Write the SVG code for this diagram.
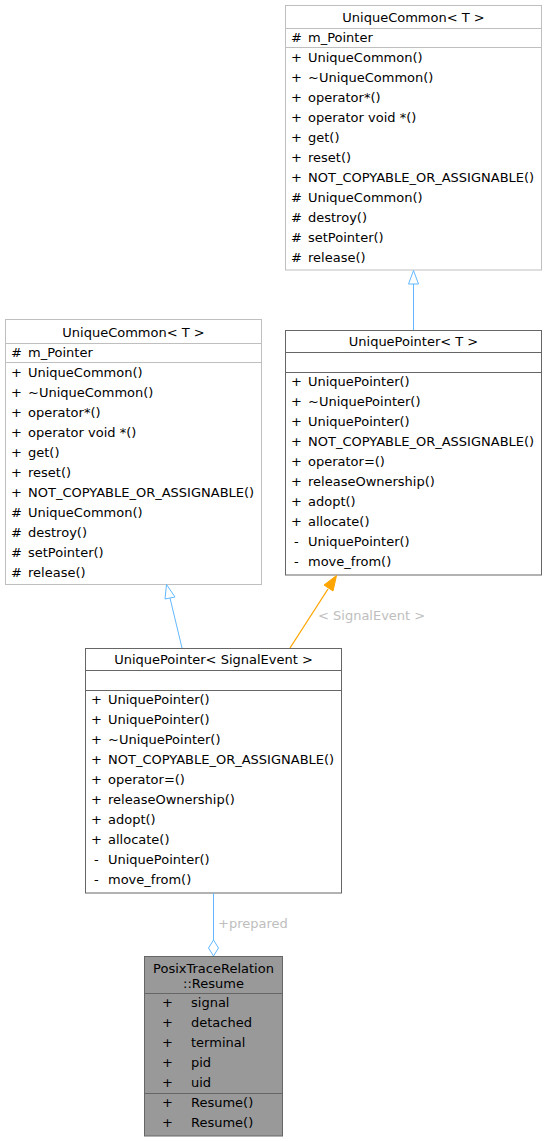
<svg xmlns="http://www.w3.org/2000/svg" width="547" height="1141" viewBox="0 0 547 1141">
<style>
text{font-family:"DejaVu Sans",sans-serif;font-size:13px;fill:#000}
.t{text-anchor:middle}
.lbl{fill:#bebebe}
.lt{fill:#fff;stroke:#bfbfbf;stroke-width:1}
.dk{fill:#fff;stroke:#666;stroke-width:1}
.gr{fill:#999;stroke:#666;stroke-width:1}
.sl{stroke:#bfbfbf;stroke-width:1}
.sd{stroke:#666;stroke-width:1}
.blue{fill:none;stroke:#63b8ff;stroke-width:1}
</style>
<g id="uc_top">
<rect class="lt" x="285.5" y="5.5" width="256" height="264.5"/>
<line class="sl" x1="285.5" y1="28.5" x2="541.5" y2="28.5"/>
<line class="sl" x1="285.5" y1="47.5" x2="541.5" y2="47.5"/>
<text class="t" x="413.5" y="22">UniqueCommon&lt; T &gt;</text>
<text x="291" y="42">#</text><text x="308" y="42">m_Pointer</text>
<text x="291" y="62">+</text><text x="308" y="62">UniqueCommon()</text>
<text x="291" y="82">+</text><text x="308" y="82">~UniqueCommon()</text>
<text x="291" y="102">+</text><text x="308" y="102">operator*()</text>
<text x="291" y="122">+</text><text x="308" y="122">operator void *()</text>
<text x="291" y="142">+</text><text x="308" y="142">get()</text>
<text x="291" y="162">+</text><text x="308" y="162">reset()</text>
<text x="291" y="182">+</text><text x="308" y="182">NOT_COPYABLE_OR_ASSIGNABLE()</text>
<text x="291" y="202">#</text><text x="308" y="202">UniqueCommon()</text>
<text x="291" y="222">#</text><text x="308" y="222">destroy()</text>
<text x="291" y="242">#</text><text x="308" y="242">setPointer()</text>
<text x="291" y="262">#</text><text x="308" y="262">release()</text>
</g>
<g id="uc_left">
<rect class="lt" x="5.5" y="319.5" width="256" height="265"/>
<line class="sl" x1="5.5" y1="343.5" x2="261.5" y2="343.5"/>
<line class="sl" x1="5.5" y1="362.5" x2="261.5" y2="362.5"/>
<text class="t" x="133.5" y="337">UniqueCommon&lt; T &gt;</text>
<text x="11" y="357">#</text><text x="28" y="357">m_Pointer</text>
<text x="11" y="377">+</text><text x="28" y="377">UniqueCommon()</text>
<text x="11" y="397">+</text><text x="28" y="397">~UniqueCommon()</text>
<text x="11" y="417">+</text><text x="28" y="417">operator*()</text>
<text x="11" y="437">+</text><text x="28" y="437">operator void *()</text>
<text x="11" y="457">+</text><text x="28" y="457">get()</text>
<text x="11" y="477">+</text><text x="28" y="477">reset()</text>
<text x="11" y="497">+</text><text x="28" y="497">NOT_COPYABLE_OR_ASSIGNABLE()</text>
<text x="11" y="517">#</text><text x="28" y="517">UniqueCommon()</text>
<text x="11" y="537">#</text><text x="28" y="537">destroy()</text>
<text x="11" y="557">#</text><text x="28" y="557">setPointer()</text>
<text x="11" y="577">#</text><text x="28" y="577">release()</text>
</g>
<g id="up_t">
<rect class="dk" x="285.5" y="330.5" width="256" height="244.5"/>
<line class="sd" x1="285.5" y1="352.5" x2="541.5" y2="352.5"/>
<line class="sd" x1="285.5" y1="372.5" x2="541.5" y2="372.5"/>
<text class="t" x="413.5" y="346">UniquePointer&lt; T &gt;</text>
<text x="291" y="386">+</text><text x="308" y="386">UniquePointer()</text>
<text x="291" y="406">+</text><text x="308" y="406">~UniquePointer()</text>
<text x="291" y="426">+</text><text x="308" y="426">UniquePointer()</text>
<text x="291" y="446">+</text><text x="308" y="446">NOT_COPYABLE_OR_ASSIGNABLE()</text>
<text x="291" y="466">+</text><text x="308" y="466">operator=()</text>
<text x="291" y="486">+</text><text x="308" y="486">releaseOwnership()</text>
<text x="291" y="506">+</text><text x="308" y="506">adopt()</text>
<text x="291" y="526">+</text><text x="308" y="526">allocate()</text>
<text x="294" y="546">-</text><text x="308" y="546">UniquePointer()</text>
<text x="294" y="566">-</text><text x="308" y="566">move_from()</text>
</g>
<g id="up_se">
<rect class="dk" x="85.5" y="648.5" width="256" height="244.5"/>
<line class="sd" x1="85.5" y1="670.5" x2="341.5" y2="670.5"/>
<line class="sd" x1="85.5" y1="690.5" x2="341.5" y2="690.5"/>
<text class="t" x="213.5" y="664">UniquePointer&lt; SignalEvent &gt;</text>
<text x="91" y="704">+</text><text x="108" y="704">UniquePointer()</text>
<text x="91" y="724">+</text><text x="108" y="724">UniquePointer()</text>
<text x="91" y="744">+</text><text x="108" y="744">~UniquePointer()</text>
<text x="91" y="764">+</text><text x="108" y="764">NOT_COPYABLE_OR_ASSIGNABLE()</text>
<text x="91" y="784">+</text><text x="108" y="784">operator=()</text>
<text x="91" y="804">+</text><text x="108" y="804">releaseOwnership()</text>
<text x="91" y="824">+</text><text x="108" y="824">adopt()</text>
<text x="91" y="844">+</text><text x="108" y="844">allocate()</text>
<text x="94" y="864">-</text><text x="108" y="864">UniquePointer()</text>
<text x="94" y="884">-</text><text x="108" y="884">move_from()</text>
</g>
<g id="resume">
<rect class="gr" x="144.5" y="956.5" width="138" height="179.5"/>
<line class="sd" x1="144.5" y1="993.5" x2="282.5" y2="993.5"/>
<line class="sd" x1="144.5" y1="1093.5" x2="282.5" y2="1093.5"/>
<text class="t" x="213.5" y="973">PosixTraceRelation</text>
<text class="t" x="213.5" y="988">::Resume</text>
<text x="162" y="1007">+</text><text x="191" y="1007">signal</text>
<text x="162" y="1027">+</text><text x="191" y="1027">detached</text>
<text x="162" y="1047">+</text><text x="191" y="1047">terminal</text>
<text x="162" y="1067">+</text><text x="191" y="1067">pid</text>
<text x="162" y="1087">+</text><text x="191" y="1087">uid</text>
<text x="162" y="1107">+</text><text x="191" y="1107">Resume()</text>
<text x="162" y="1127">+</text><text x="191" y="1127">Resume()</text>
</g>
<g id="connectors">
<line class="blue" x1="413.5" y1="330" x2="413.5" y2="284"/>
<polygon class="blue" points="408.5,284 413.5,270.5 418.5,284"/>
<line class="blue" x1="182" y1="648" x2="170" y2="598"/>
<polygon class="blue" points="165,599 166.5,584.5 175,597"/>
<line stroke="#ffa500" stroke-width="1.3" x1="290" y1="648" x2="328" y2="589"/>
<polygon fill="#ffa500" stroke="#ffa500" stroke-width="1" points="324,585 336.5,575.5 333,591"/>
<text class="lbl" x="318" y="620">&lt; SignalEvent &gt;</text>
<line class="blue" x1="213.5" y1="893" x2="213.5" y2="940"/>
<polygon class="blue" points="213.5,940 218.5,948 213.5,956 208.5,948"/>
<text class="lbl" x="218" y="928">+prepared</text>
</g>
</svg>
